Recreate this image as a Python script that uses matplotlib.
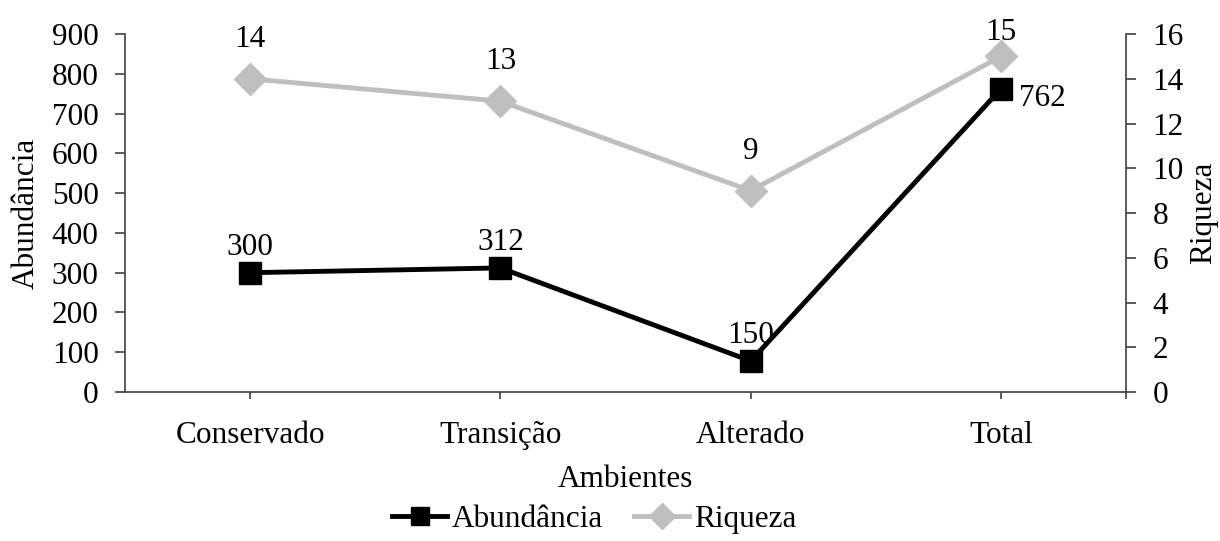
import numpy as np
import matplotlib.pyplot as plt

plt.rcParams['font.family'] = ['Liberation Serif', 'DejaVu Serif']

# dados (posição dos pontos; rótulos como aparecem)
ambientes = ['Conservado', 'Transição', 'Alterado', 'Total']
abundancia = [300, 312, 78, 762]
rotulos_abund = ['300', '312', '150', '762']
riqueza = [14, 13, 9, 15]

eixo_cor = '#404040'
cinza = '#BFBFBF'
fs = 22.5

fig = plt.figure(figsize=(12.2, 5.41), dpi=100)
ax = fig.add_axes([0.1025, 0.2754, 0.8205, 0.6616])
ax2 = ax.twinx()

x = np.arange(len(ambientes))

# abundância (eixo esquerdo)
l1, = ax.plot(x, abundancia, color='black', lw=3.5, marker='s', ms=16,
              label='Abundância', zorder=3)
for xi, v, r in zip(x, abundancia, rotulos_abund):
    if xi == len(x) - 1:
        ax.annotate(r, (xi, v), xytext=(13, -12), textcoords='offset points',
                    ha='left', va='baseline', fontsize=fs)
    else:
        ax.annotate(r, (xi, v), xytext=(0, 13), textcoords='offset points',
                    ha='center', va='baseline', fontsize=fs)

# riqueza (eixo direito)
l2, = ax2.plot(x, riqueza, color=cinza, lw=3.5, marker='D', ms=16,
               label='Riqueza', zorder=3)
for xi, v in zip(x, riqueza):
    dy = 12 if xi == len(x) - 1 else 23
    ax2.annotate(str(v), (xi, v), xytext=(0, dy), textcoords='offset points',
                 ha='center', va='baseline', fontsize=fs)

ax.set_xlim(-0.5, 3.5)
ax.set_ylim(0, 900)
ax.set_yticks(np.arange(0, 901, 100))
ax2.set_ylim(0, 16)
ax2.set_yticks(np.arange(0, 17, 2))

ax.set_xticks(list(x) + [3.5])
ax.set_xticklabels(ambientes + [''])

for a in (ax, ax2):
    a.spines['top'].set_visible(False)
    for s in ('left', 'right', 'bottom'):
        a.spines[s].set_color(eixo_cor)
        a.spines[s].set_linewidth(1.2)
    a.tick_params(colors=eixo_cor, labelcolor='black', labelsize=fs,
                  width=1.2, length=7)
ax.spines['right'].set_visible(False)
ax2.spines['left'].set_visible(False)
ax2.spines['bottom'].set_visible(False)
ax.tick_params(axis='x', length=5, pad=16)
ax.tick_params(axis='y', pad=12)
ax2.tick_params(axis='y', pad=12)

ax.set_xlabel('Ambientes', fontsize=fs, labelpad=11)
ax.set_ylabel('Abundância', fontsize=fs, labelpad=8)
ax2.set_ylabel('Riqueza', fontsize=fs, labelpad=4)

fig.legend([l1, l2], ['Abundância', 'Riqueza'], loc='center',
           bbox_to_anchor=(0.487, 0.04), ncol=2, frameon=False, fontsize=fs,
           handlelength=1.75, handletextpad=0.15, columnspacing=1.0, markerscale=0.8,
           borderaxespad=0, borderpad=0)

fig.savefig('out.png', dpi=100)
